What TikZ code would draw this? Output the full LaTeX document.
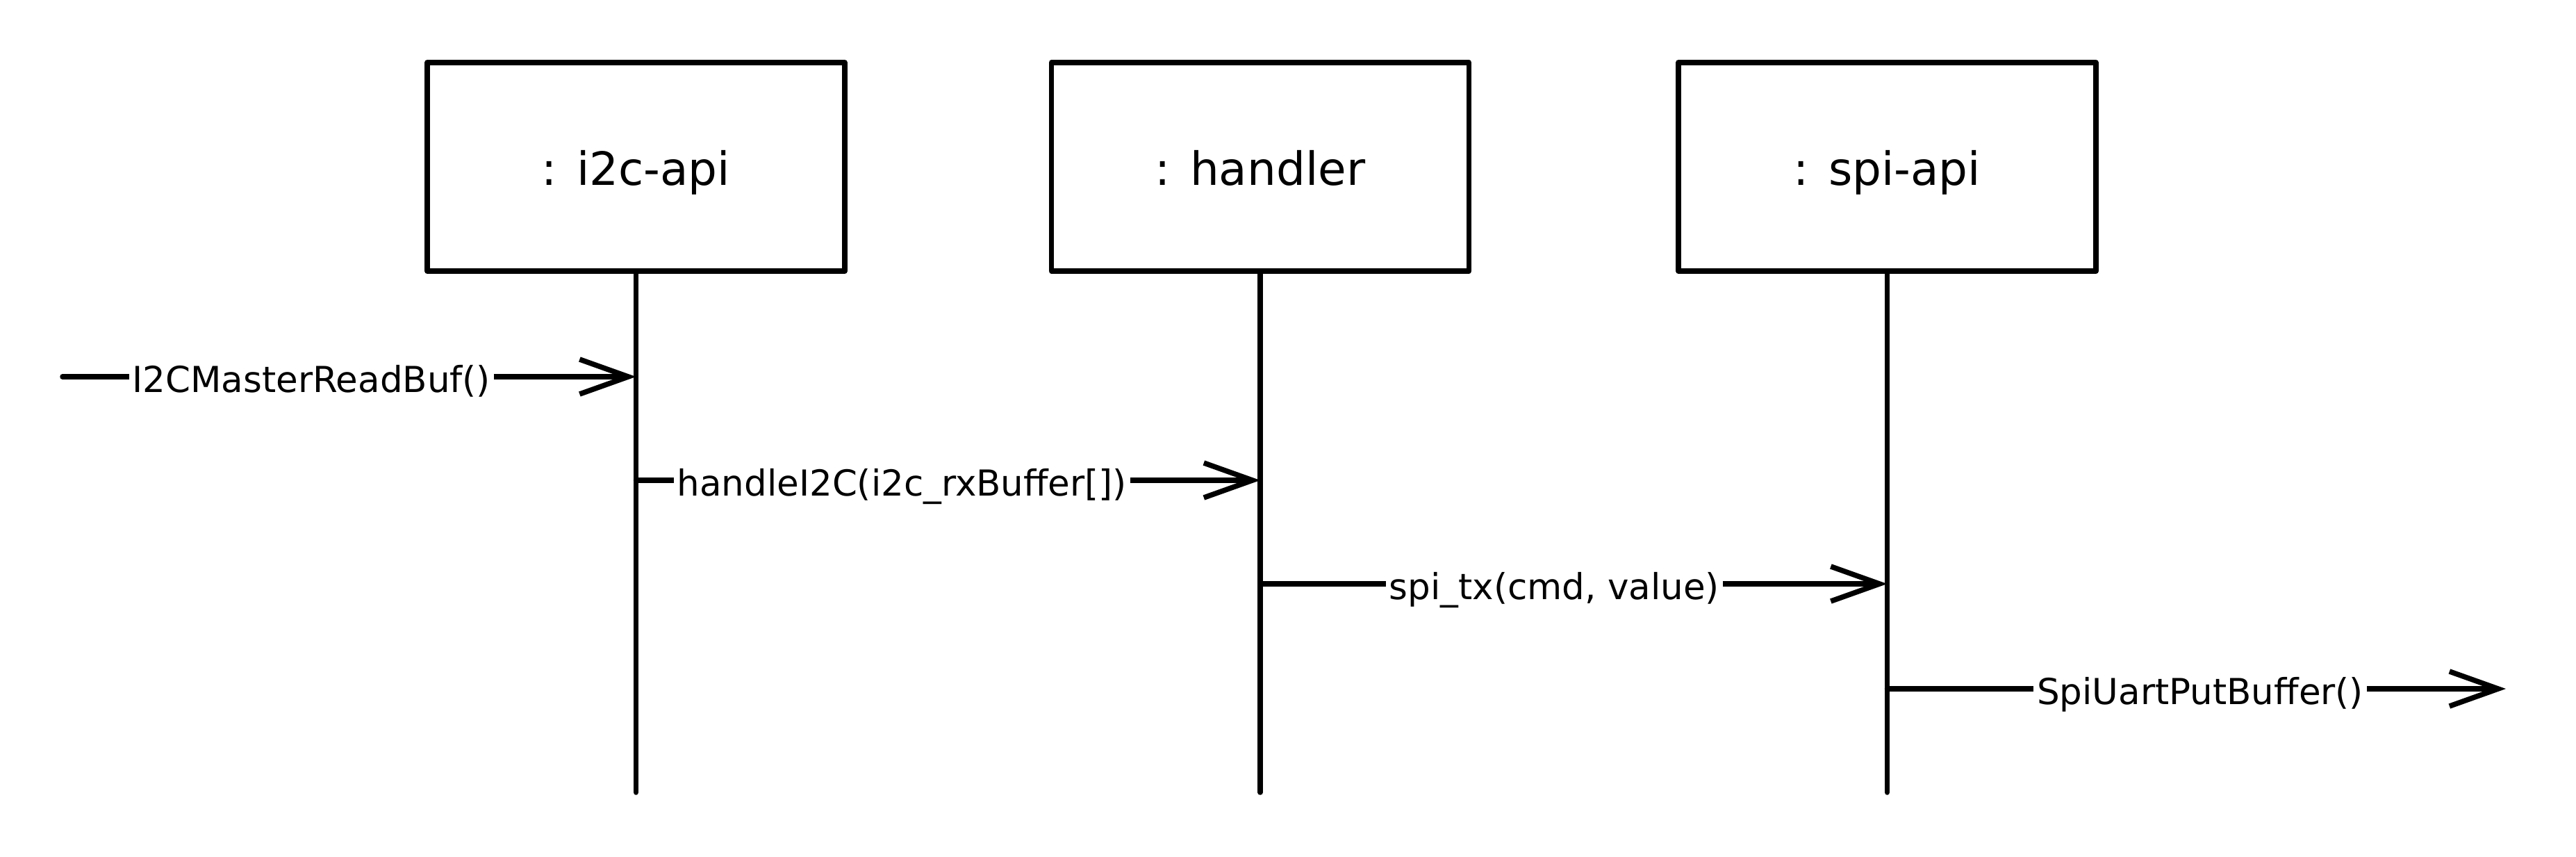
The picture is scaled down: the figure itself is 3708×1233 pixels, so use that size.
\documentclass[tikz,border=0pt]{standalone}
\usepackage{fontspec}
\setmainfont{DejaVu Sans}
\usetikzlibrary{arrows.meta}
\begin{document}
\begin{tikzpicture}[x=1pt,y=-1pt,
  objbox/.style={draw, line width=7.5pt, line join=round, minimum width=601pt, minimum height=300pt, inner sep=0pt, text height=54pt, text depth=0pt, font=\fontsize{66}{80}\selectfont},
  lifeline/.style={line width=7.5pt, line cap=round},
  msg/.style={line width=7.5pt, line cap=round, -{Straight Barb[length=70pt,width=50pt,line width=7.5pt]}},
  lbl/.style={fill=white, inner xsep=5pt, inner ysep=0pt, anchor=base, yshift=-22pt, font=\fontsize{51.5}{62}\selectfont}]
\useasboundingbox (0,0) rectangle (3708,1233);
\node[objbox] (A) at (915.5,240) {: i2c-api};
\node[objbox] (B) at (1814,240) {: handler};
\node[objbox] (C) at (2716.5,240) {: spi-api};
\coordinate (Aend) at (915.5,1140);
\coordinate (Bend) at (1814,1140);
\coordinate (Cend) at (2716.5,1140);
\draw[lifeline] (A.south) -- (Aend);
\draw[lifeline] (B.south) -- (Bend);
\draw[lifeline] (C.south) -- (Cend);
\coordinate (in) at (90,542);
\coordinate (a1) at (915.5,542);
\coordinate (a2) at (915.5,691);
\coordinate (b2) at (1814,691);
\coordinate (b3) at (1814,840);
\coordinate (c3) at (2716.5,840);
\coordinate (c4) at (2716.5,991);
\coordinate (out) at (3607,991);
\draw[msg] (in) -- (a1) node[lbl, pos=0.434] {I2CMasterReadBuf()};
\draw[msg] (a2) -- (b2) node[lbl, pos=0.426] {handleI2C(i2c\_rxBuffer[])};
\draw[msg] (b3) -- (c3) node[lbl, pos=0.469] {spi\_tx(cmd, value)};
\draw[msg] (c4) -- (out) node[lbl, pos=0.506] {SpiUartPutBuffer()};
\end{tikzpicture}
\end{document}
